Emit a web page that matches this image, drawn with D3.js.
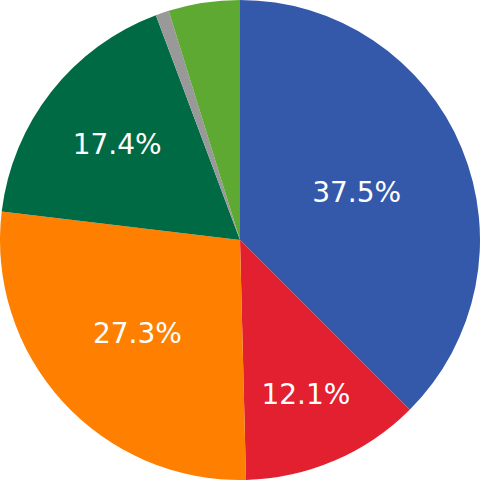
<!DOCTYPE html>
<html>
<head>
<meta charset="utf-8">
<script src="https://cdn.jsdelivr.net/npm/d3@7"></script>
<style>
    html, body { margin: 0; padding: 0; background: #fff; }
    svg { display: block; }
</style>
</head>
<body>
<div id="chart"></div>
<script>
// slice data, clockwise from 12 o'clock
const categories = ["A", "B", "C", "D", "E", "F"];
const values = [37.5, 12.1, 27.3, 17.4, 0.9, 4.8];
const labels = ["37.5%", "12.1%", "27.3%", "17.4%", "", ""];
const colors = ["#3559aa", "#e3202f", "#ff7f00", "#006a44", "#999999", "#5ea932"];

const width = 480,
    height = 480,
    radius = Math.min(width, height) / 2;

const svg = d3.select('#chart').append('svg')
    .attr('width', width)
    .attr('height', height)
    .append('g')
    .attr('transform', `translate(${width / 2},${height / 2})`);

const pie = d3.pie()
    .sort(null)
    .value((d, i) => values[i]);

const arcs = pie(categories);

const arc = d3.arc()
    .innerRadius(0)
    .outerRadius(radius);

// slices
svg.selectAll('path')
    .data(arcs)
    .enter().append('path')
    .attr('d', arc)
    .style('fill', (d, i) => colors[i]);

// labels sit further out in narrow slices, closer in wide ones
function labelRadius(d) {
    const half = Math.min((d.endAngle - d.startAngle) / 2, Math.PI / 2);
    return radius * (0.8115 - 0.309 * Math.sin(half));
}

svg.selectAll('text')
    .data(arcs)
    .enter().append('text')
    .text((d, i) => labels[i])
    .attr('x', d => labelRadius(d) * Math.sin((d.startAngle + d.endAngle) / 2))
    .attr('y', d => -labelRadius(d) * Math.cos((d.startAngle + d.endAngle) / 2))
    .attr('dy', '0.36em')
    .attr('text-anchor', 'middle')
    .style('fill', '#fff')
    .style('font-family', 'DejaVu Sans, Verdana, sans-serif')
    .style('font-size', '28px');
</script>
</body>
</html>
